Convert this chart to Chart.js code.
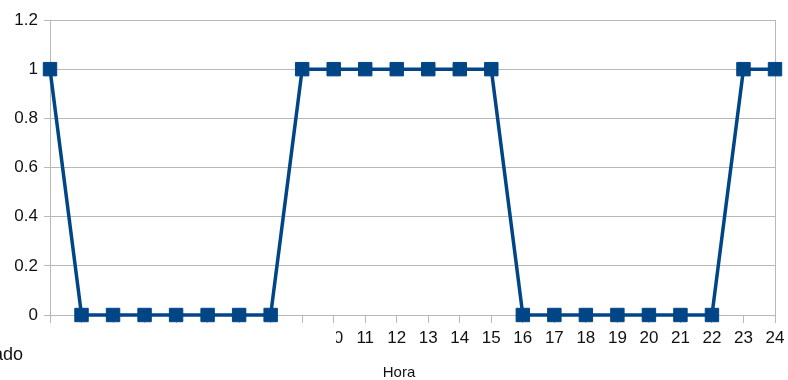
<!DOCTYPE html>
<html>
<head>
<meta charset="utf-8">
<script src="https://cdn.jsdelivr.net/npm/chart.js@4"></script>
<style>
  html, body { margin: 0; padding: 0; background: #fff; }
  #wrap { width: 788px; height: 380px; }
</style>
</head>
<body>
<div id="wrap"><canvas id="grafico" width="788" height="380"></canvas></div>
<script>
// dati: ora del giorno e stato (1 = acceso, 0 = spento)
const ore = ['1','2','3','4','5','6','7','8','9','10','11','12','13','14','15','16','17','18','19','20','21','22','23','24'];
const stato = [1, 0, 0, 0, 0, 0, 0, 0, 1, 1, 1, 1, 1, 1, 1, 0, 0, 0, 0, 0, 0, 0, 1, 1];
const yTicks = [0, 0.2, 0.4, 0.6, 0.8, 1, 1.2];

const grigio = '#b8b8b8';
const blu = '#004586';

// la casella bianca del titolo "Estado" copre le etichette 1..10
const titoliAssi = {
  id: 'titoliAssi',
  afterDraw(chart) {
    const ctx = chart.ctx;
    ctx.save();
    ctx.fillStyle = '#fff';
    ctx.fillRect(0, 324, 336, 44);
    ctx.fillStyle = '#111';
    ctx.textBaseline = 'middle';
    ctx.font = '18px "Liberation Sans"';
    ctx.textAlign = 'right';
    ctx.fillText('Estado', 23, 355);
    ctx.font = '15px "Liberation Sans"';
    ctx.textAlign = 'center';
    ctx.fillText('Hora', 399, 373);
    ctx.restore();
  }
};

const ctx = document.getElementById('grafico').getContext('2d');
new Chart(ctx, {
  type: 'line',
  data: {
    labels: ore,
    datasets: [{
      data: stato,
      borderColor: blu,
      backgroundColor: blu,
      borderWidth: 3.5,
      tension: 0,
      clip: false,
      pointStyle: 'rect',
      pointRadius: 9.5,
      pointBorderWidth: 1,
      pointBorderColor: blu,
      pointBackgroundColor: blu
    }]
  },
  options: {
    responsive: false,
    animation: false,
    layout: { padding: { top: 20, right: 13, left: 0, bottom: 0 } },
    plugins: { legend: { display: false }, tooltip: { enabled: false } },
    scales: {
      x: {
        offset: false,
        grid: {
          color: c => (c.index === ore.length - 1 ? grigio : 'rgba(0,0,0,0)'),
          tickColor: grigio,
          tickLength: 8,
          lineWidth: 1
        },
        border: { color: grigio },
        ticks: {
          color: '#111',
          font: { family: 'Liberation Sans', size: 17 },
          padding: 5,
          maxRotation: 0,
          autoSkip: false
        },
        afterFit: s => { s.height = 65; s.paddingRight = 0; s.paddingLeft = 0; }
      },
      y: {
        min: 0,
        max: 1.2,
        afterBuildTicks: s => { s.ticks = yTicks.map(v => ({ value: v })); },
        grid: { color: grigio, tickLength: 6, tickColor: grigio },
        border: { color: grigio },
        ticks: {
          color: '#111',
          font: { family: 'Liberation Sans', size: 17 },
          padding: 6,
          callback: v => String(Math.round(v * 10) / 10)
        },
        afterFit: s => { s.width = 50; }
      }
    }
  },
  plugins: [titoliAssi]
});
</script>
</body>
</html>
